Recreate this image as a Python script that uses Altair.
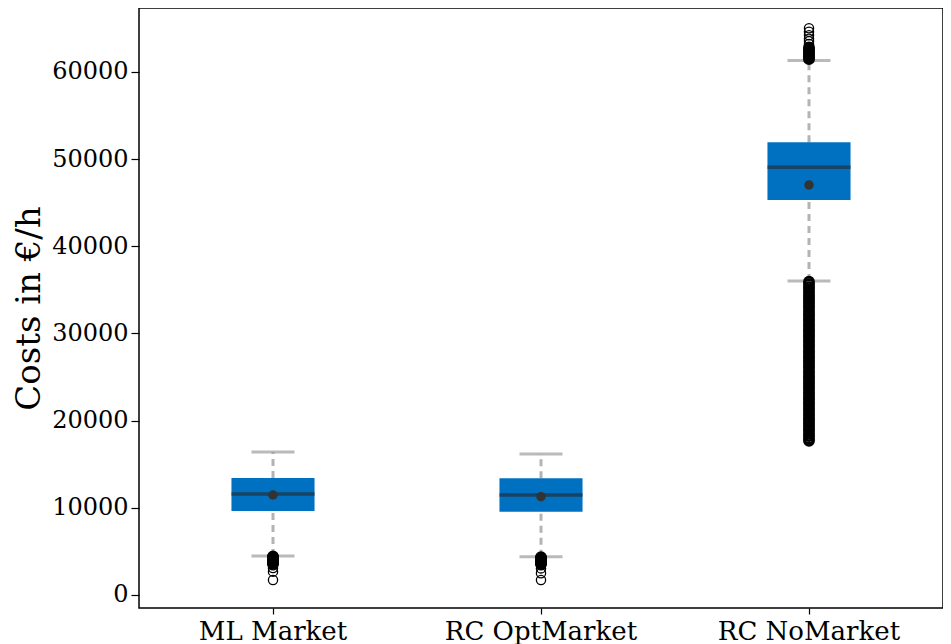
import altair as alt
import pandas as pd

categories = ["ML Market", "RC OptMarket", "RC NoMarket"]
whisker_low = [4470, 4390, 36010]
q1 = [9630, 9550, 45300]
median = [11580, 11470, 49050]
q3 = [13420, 13380, 51920]
whisker_high = [16400, 16170, 61300]
mean = [11470, 11270, 47020]

# dense outlier clusters (drawn as overlapping circles)
dense_ml = [4420, 4350, 4280, 4200, 4120, 4050, 3980, 3900, 3820, 3740, 3660, 3560]
dense_opt = [4330, 4260, 4190, 4110, 4030, 3950, 3870, 3790, 3710, 3630, 3550]
dense_no_high = [62800, 62600, 62400, 62200, 62000, 61800, 61600, 61450]
dense_no_low = [35920, 35640, 35310, 35050, 34720, 34380, 34110, 33790,
                33520, 33180, 32930, 32590, 32280, 32010, 31690, 31420,
                31080, 30810, 30470, 30230, 29880, 29610, 29290, 29020,
                28690, 28430, 28080, 27820, 27470, 27210, 26880, 26620,
                26290, 26030, 25680, 25420, 25090, 24830, 24480, 24210,
                23890, 23620, 23280, 23010, 22690, 22420, 22090, 21830,
                21480, 21210, 20890, 20620, 20280, 20010, 19690, 19420,
                19090, 18830, 18480, 18220, 17930, 17680]
# isolated outliers
single_ml = [3400, 3100, 2680, 1720]
single_opt = [3400, 3050, 2490, 1720]
single_no = [65000, 64600, 64200, 63800, 63500, 63200]

stats = pd.DataFrame({
    "category": categories,
    "whisker_low": whisker_low,
    "q1": q1,
    "median": median,
    "q3": q3,
    "whisker_high": whisker_high,
    "mean": mean,
})


def frame(groups):
    cats, vals = [], []
    for cat, values in groups:
        cats += [cat] * len(values)
        vals += values
    return pd.DataFrame({"category": cats, "value": vals})


dense = frame([(categories[0], dense_ml), (categories[1], dense_opt),
               (categories[2], dense_no_high + dense_no_low)])
single = frame([(categories[0], single_ml), (categories[1], single_opt),
                (categories[2], single_no)])

FONT = "DejaVu Serif"
TITLE = "Costs in €/h"
y_scale = alt.Scale(domain=[-1491, 67317], nice=False, zero=False)
y_axis = alt.Axis(values=[0, 10000, 20000, 30000, 40000, 50000, 60000],
                  format="d", titlePadding=5, labelPadding=3, tickSize=8)


def X():
    return alt.X("category:N", sort=categories, title=None,
                 scale=alt.Scale(paddingInner=0, paddingOuter=0),
                 axis=alt.Axis(labelAngle=0, labelPadding=4, tickSize=6, labelLimit=0))


def Y(field):
    return alt.Y(field, type="quantitative", scale=y_scale, axis=y_axis, title=TITLE)


base = alt.Chart(stats)

whisk_up = base.mark_rule(color="#b3b3b3", strokeWidth=3, strokeDash=[7, 5]).encode(
    x=X(), y=Y("q3"), y2="whisker_high")
whisk_dn = base.mark_rule(color="#b3b3b3", strokeWidth=3, strokeDash=[7, 5]).encode(
    x=X(), y=Y("whisker_low"), y2="q1")
box = base.mark_bar(width=alt.RelativeBandSize(0.31), color="#0070C0").encode(
    x=X(), y=Y("q1"), y2="q3")
cap_hi = base.mark_tick(size=43, thickness=3, color="#9c9c9c").encode(
    x=X(), y=Y("whisker_high"))
cap_lo = base.mark_tick(size=43, thickness=3, color="#9c9c9c").encode(
    x=X(), y=Y("whisker_low"))
med = base.mark_tick(size=83, thickness=3.5, color="#22313c").encode(
    x=X(), y=Y("median"))
mn = base.mark_point(filled=True, size=90, color="#333333", opacity=1).encode(
    x=X(), y=Y("mean"))
fl_dense = alt.Chart(dense).mark_point(shape="circle", filled=False, color="black",
                                        size=85, strokeWidth=2.6, opacity=1).encode(
    x=X(), y=Y("value"))
fl_single = alt.Chart(single).mark_point(shape="circle", filled=False, color="black",
                                          size=85, strokeWidth=1.3, opacity=1).encode(
    x=X(), y=Y("value"))

chart = alt.layer(whisk_up, whisk_dn, box, cap_hi, cap_lo, med, mn,
                  fl_single, fl_dense).properties(
    width=804, height=600,
    autosize=alt.AutoSizeParams(type="none"),
    padding={"left": 131, "top": 0, "right": 0, "bottom": 36},
).configure_view(stroke="black", strokeWidth=1.5).configure_axis(
    labelFont=FONT, titleFont=FONT, labelColor="black", titleColor="black",
    titleFontSize=34, titleFontWeight="normal",
    tickColor="black", tickWidth=1.2, domain=False, grid=False,
).configure_axisX(labelFontSize=26).configure_axisY(labelFontSize=24)

chart.save("out.html", embed_options={"renderer": "svg", "actions": False})
